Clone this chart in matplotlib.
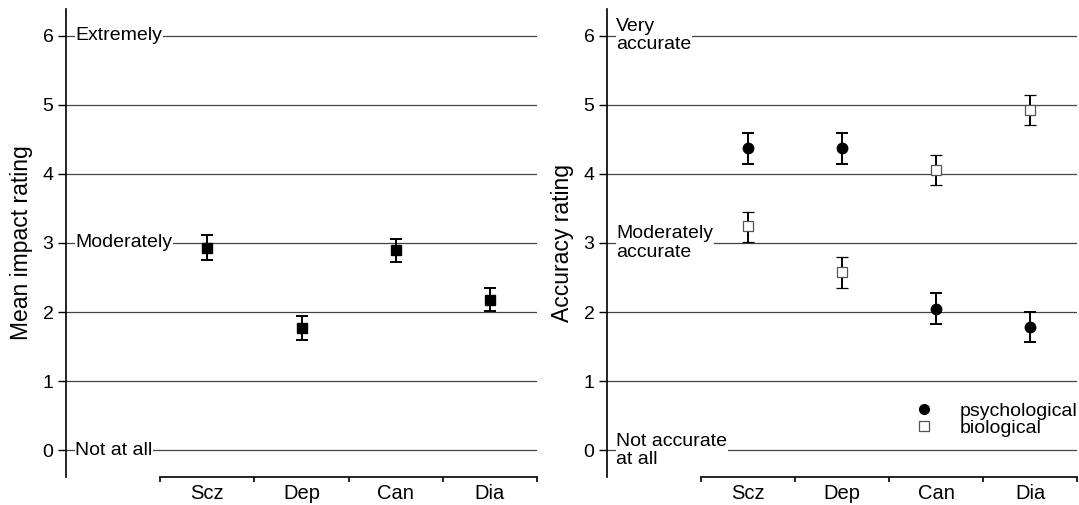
import numpy as np
import matplotlib
matplotlib.use("Agg")
import matplotlib.pyplot as plt
import matplotlib.transforms as mtransforms

plt.rcParams["font.family"] = ["Liberation Sans", "DejaVu Sans"]

# data
categories = ["Scz", "Dep", "Can", "Dia"]

impact_mean = [2.93, 1.77, 2.90, 2.18]
impact_lo = [2.75, 1.59, 2.73, 2.01]
impact_hi = [3.12, 1.94, 3.06, 2.35]

psych_mean = [4.37, 4.38, 2.05, 1.78]
psych_lo = [4.14, 4.15, 1.83, 1.56]
psych_hi = [4.59, 4.60, 2.27, 2.00]

bio_mean = [3.24, 2.58, 4.06, 4.93]
bio_lo = [3.01, 2.35, 3.84, 4.71]
bio_hi = [3.45, 2.79, 4.28, 5.14]

impact_ticklabels = {6: "Extremely", 3: "Moderately", 0: "Not at all"}
accuracy_ticklabels = {6: "Very\naccurate", 3: "Moderately\naccurate", 0: "Not accurate\nat all"}

W, H = 1079, 505
fig = plt.figure(figsize=(W / 100, H / 100), dpi=100)

ax1 = fig.add_axes([66 / W, (505 - 477) / H, 471 / W, 468 / H])
ax2 = fig.add_axes([607 / W, (505 - 477) / H, 470 / W, 468 / H])

x = np.arange(len(categories))


def errs(mean, lo, hi):
    m = np.array(mean)
    return [m - np.array(lo), np.array(hi) - m]


def style_axis(ax, ylabel, text_labels):
    ax.set_xlim(-1.5, 3.5)
    ax.set_ylim(-0.39, 6.39)
    for s in ["top", "right"]:
        ax.spines[s].set_visible(False)
    ax.spines["left"].set_linewidth(1.2)
    ax.spines["bottom"].set_linewidth(1.2)
    ax.spines["bottom"].set_bounds(-0.5, 3.5)
    ax.set_yticks(range(0, 7))
    ax.tick_params(axis="y", direction="out", length=6, width=1, pad=3, labelsize=14)
    ax.set_xticks(np.arange(-0.5, 4, 1))
    ax.set_xticklabels([])
    ax.tick_params(axis="x", which="major", direction="out", length=3.5, width=1.2)
    ax.set_xticks(x, minor=True)
    ax.set_xticklabels(categories, minor=True)
    ax.tick_params(axis="x", which="minor", length=0, pad=5, labelsize=14.5)
    for yv in range(0, 7):
        ax.axhline(yv, color="#444444", lw=0.9, zorder=0)
    ax.set_ylabel(ylabel, fontsize=16.5)
    ax.yaxis.set_label_coords(-0.07, 0.5)
    trans = mtransforms.blended_transform_factory(ax.transAxes, ax.transData)
    for yv, txt in text_labels.items():
        ax.text(0.02, yv, txt, transform=trans, ha="left", va="center",
                fontsize=14, linespacing=1.08, zorder=1,
                bbox=dict(facecolor="white", edgecolor="none", pad=0.6))


style_axis(ax1, "Mean impact rating", impact_ticklabels)
style_axis(ax2, "Accuracy rating", accuracy_ticklabels)

ax1.errorbar(x, impact_mean, yerr=errs(impact_mean, impact_lo, impact_hi),
             fmt="s", color="black", ms=7.5, capsize=4.5, elinewidth=1.4,
             capthick=1.4, zorder=3)

ax2.errorbar(x, psych_mean, yerr=errs(psych_mean, psych_lo, psych_hi),
             fmt="o", color="black", ms=7.5, capsize=4.5, elinewidth=1.4,
             capthick=1.4, zorder=3, label="psychological")
ax2.errorbar(x, bio_mean, yerr=errs(bio_mean, bio_lo, bio_hi),
             fmt="s", color="black", mfc="white", mec="#555555", mew=0.9,
             ms=7, capsize=4.5, elinewidth=1.4, capthick=1.4, zorder=3,
             label="biological")

# legend with markers only
h1 = plt.Line2D([], [], marker="o", ls="none", color="black", ms=7)
h2 = plt.Line2D([], [], marker="s", ls="none", mfc="white", mec="#555555",
                mew=0.9, ms=7)
ax2.legend([h1, h2], ["psychological", "biological"], loc="lower right",
           bbox_to_anchor=(1.0, 0.085), frameon=False, fontsize=14,
           handlelength=1.0, handletextpad=1.3, labelspacing=0.0,
           borderpad=0, borderaxespad=0)

fig.savefig("out.png", dpi=100)
